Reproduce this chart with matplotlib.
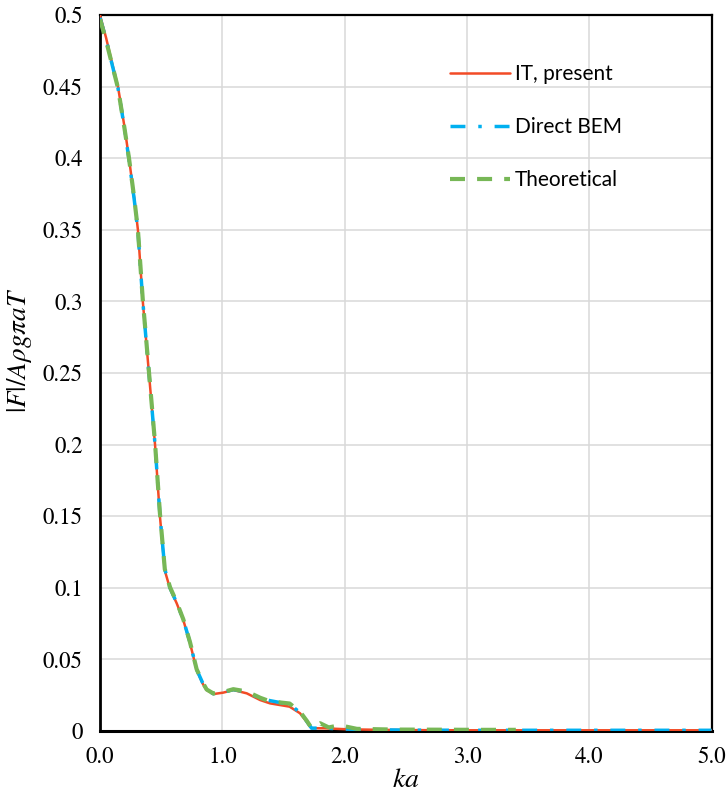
"""
|F|/AρgπaT vs ka: IT present / Direct BEM / Theoretical
"""
import matplotlib
matplotlib.use('Agg')
import matplotlib.pyplot as plt

# IT, present
KA_IT = [0.0, 0.05, 0.10, 0.147, 0.20, 0.237, 0.28, 0.31, 0.35, 0.40, 0.45, 0.49,
         0.53, 0.572, 0.627, 0.681, 0.736, 0.79, 0.84, 0.872, 0.927, 1.008, 1.09,
         1.2, 1.31, 1.39, 1.55, 1.635, 1.69, 1.73, 1.83, 2.02, 2.3, 2.6, 3.0,
         3.5, 4.0, 4.5, 5.0]
F_IT = [0.500, 0.484, 0.466, 0.450, 0.422, 0.400, 0.372, 0.350, 0.300, 0.250,
        0.200, 0.150, 0.112, 0.0996, 0.0892, 0.0775, 0.0614, 0.0426, 0.033,
        0.0286, 0.0258, 0.0268, 0.0286, 0.0263, 0.0216, 0.0193, 0.017, 0.0124,
        0.0065, 0.0019, 0.0019, 0.0012, 0.0008, 0.0006, 0.0005, 0.0005, 0.0005,
        0.0005, 0.0005]

# Direct BEM
KA_BEM = [0.0, 0.05, 0.10, 0.147, 0.20, 0.237, 0.28, 0.31, 0.35, 0.40, 0.45, 0.49,
          0.53, 0.572, 0.627, 0.681, 0.736, 0.79, 0.84, 0.872, 0.927, 1.008, 1.09,
          1.2, 1.31, 1.39, 1.55, 1.635, 1.69, 1.73, 1.83, 2.02, 2.3, 2.6, 3.0,
          3.5, 4.0, 4.5, 5.0]
F_BEM = [0.498, 0.483, 0.465, 0.449, 0.421, 0.399, 0.371, 0.349, 0.300, 0.250,
         0.200, 0.151, 0.113, 0.100, 0.0895, 0.0778, 0.0618, 0.043, 0.0335,
         0.0288, 0.026, 0.027, 0.0289, 0.0272, 0.0228, 0.0212, 0.0186, 0.013,
         0.0068, 0.002, 0.002, 0.0013, 0.0008, 0.0006, 0.0005, 0.0005, 0.0005,
         0.0005, 0.0005]

# Theoretical
KA_TH = [0.0, 0.05, 0.10, 0.147, 0.20, 0.237, 0.28, 0.31, 0.35, 0.40, 0.45, 0.49,
         0.53, 0.572, 0.627, 0.681, 0.736, 0.79, 0.84, 0.872, 0.927, 1.008, 1.09,
         1.2, 1.31, 1.39, 1.55, 1.635, 1.69, 1.73, 1.80, 1.87, 1.96, 2.1, 2.4,
         2.8, 3.1, 3.4]
F_TH = [0.497, 0.482, 0.465, 0.449, 0.421, 0.400, 0.372, 0.350, 0.301, 0.251,
        0.201, 0.152, 0.113, 0.1005, 0.090, 0.078, 0.062, 0.0432, 0.0338,
        0.029, 0.0262, 0.0272, 0.0292, 0.0276, 0.0232, 0.0207, 0.0192, 0.0135,
        0.0072, 0.002, 0.0054, 0.0025, 0.004, 0.0015, 0.001, 0.0009, 0.0008,
        0.0008]

X_TICKS = [0.0, 1.0, 2.0, 3.0, 4.0, 5.0]
Y_TICKS = [0, 0.05, 0.1, 0.15, 0.2, 0.25, 0.3, 0.35, 0.4, 0.45, 0.5]

RED = '#F24B26'
BLUE = '#00B0F0'
GREEN = '#77B756'

plt.rcParams['font.family'] = ['STIXGeneral', 'DejaVu Serif']
plt.rcParams['mathtext.fontset'] = 'stix'

fig = plt.figure(figsize=(7.26, 7.94), dpi=100)
ax = fig.add_axes([100 / 726, 63 / 794, 611.5 / 726, 716 / 794])

ax.plot(KA_IT, F_IT, color=RED, lw=1.8, solid_capstyle='round',
        label='IT, present', zorder=3)
ax.plot(KA_BEM, F_BEM, color=BLUE, lw=2.5, dashes=(4.3, 3.7, 1.0, 3.7),
        label='Direct BEM', zorder=4)
ax.plot(KA_TH, F_TH, color=GREEN, lw=3.0, dashes=(3.6, 2.9),
        label='Theoretical', zorder=5)

ax.set_xlim(0, 5)
ax.set_ylim(0, 0.5)
ax.set_xticks(X_TICKS, [f"{v:.1f}" for v in X_TICKS])
ax.set_yticks(Y_TICKS, [f"{v:g}" for v in Y_TICKS])
ax.tick_params(axis='both', length=0, labelsize=16.5,
               labelfontfamily='STIXGeneral')
ax.tick_params(axis='x', pad=11)
ax.tick_params(axis='y', pad=12.5)

ax.grid(True, color='#D9D9D9', lw=1.1)
ax.set_axisbelow(True)
for s in ax.spines.values():
    s.set_color('black')
    s.set_linewidth(1.6)
ax.spines['left'].set_linewidth(2.0)
ax.spines['bottom'].set_linewidth(2.2)

ax.set_xlabel(r'$ka$', fontsize=20, labelpad=0)
ax.set_ylabel(r'$|F|/A\rho g\pi aT$', fontsize=19.5)
ax.yaxis.set_label_coords(-0.108, 0.532)

leg = ax.legend(loc='upper left', bbox_to_anchor=(0.572, 0.931), frameon=False,
                prop={'family': 'Lato', 'size': 15}, handlelength=2.88,
                handletextpad=0.25, labelspacing=1.57, borderpad=0,
                borderaxespad=0)

fig.savefig('out.png', dpi=100)
